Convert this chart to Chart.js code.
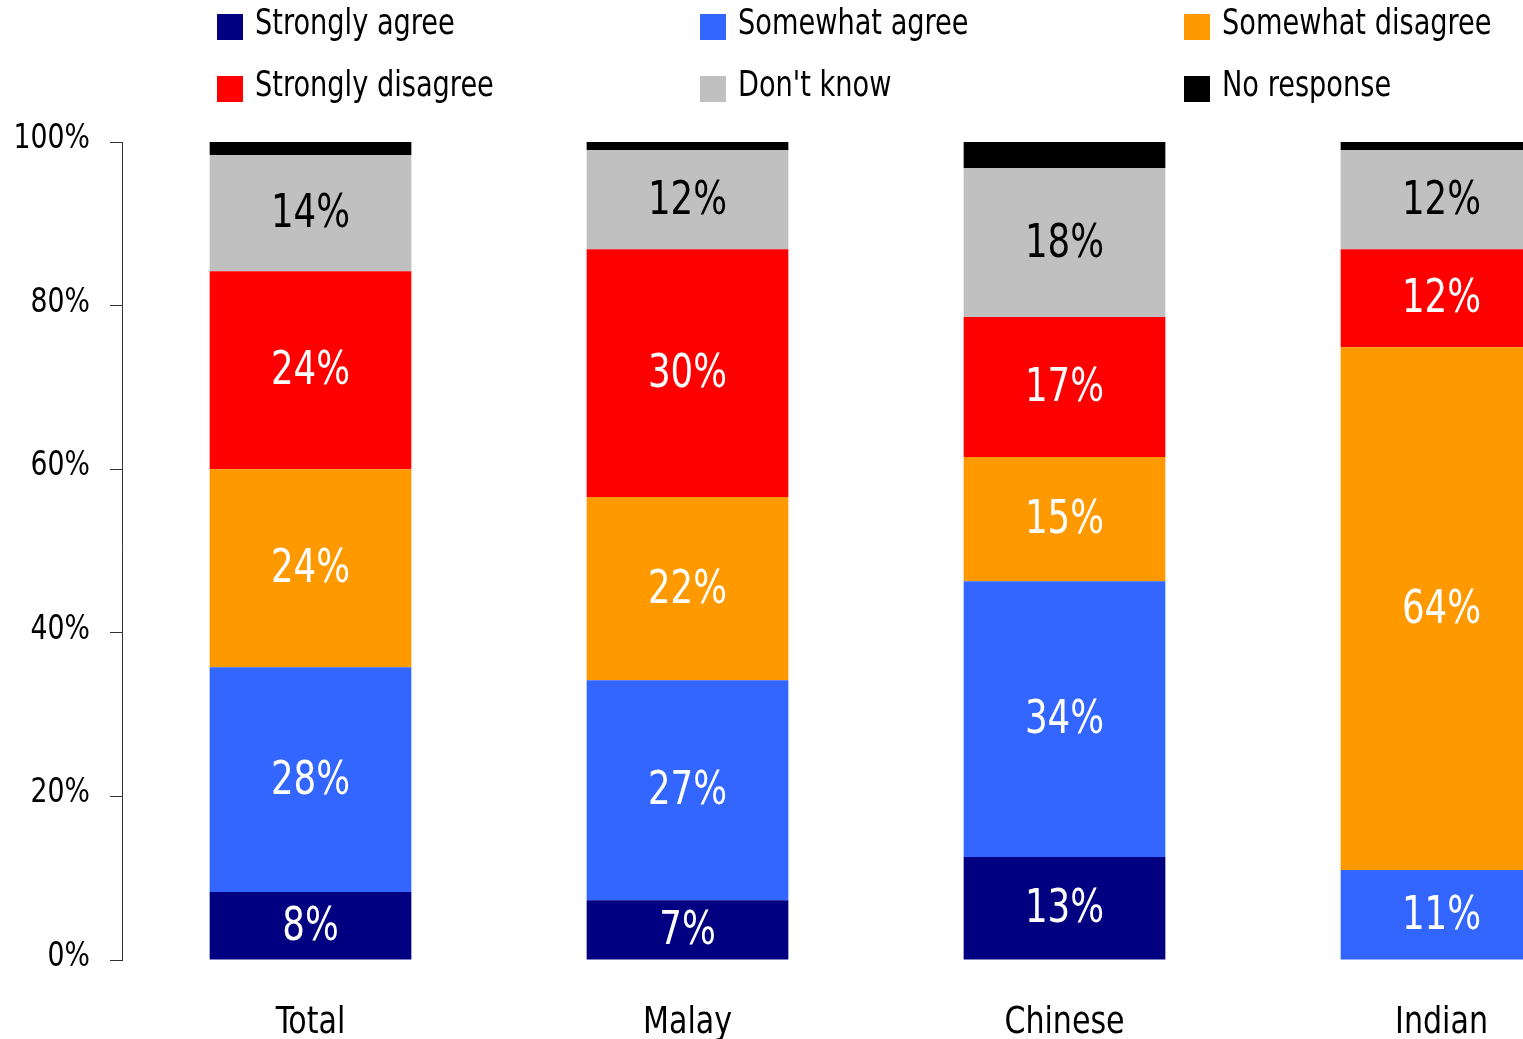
<!DOCTYPE html>
<html>
<head>
<meta charset="utf-8">
<script src="https://cdn.jsdelivr.net/npm/chart.js@4.4.0/dist/chart.umd.min.js"></script>
<style>
  html, body { margin:0; padding:0; background:#fff; overflow:hidden; width:1523px; height:1039px; }
  #wrap { position:absolute; left:0; top:0; width:1630px; height:1060px; }
  .sw { position:absolute; width:26px; height:26px; }
  .tx { position:absolute; font-family:"DejaVu Sans Condensed","DejaVu Sans",sans-serif; font-size:36px; line-height:36px; color:#000; white-space:nowrap; transform:scaleX(0.84); transform-origin:0 0; }
</style>
</head>
<body>
<div id="wrap"><canvas id="c" width="1630" height="1060"></canvas></div>
<div id="legend"></div>
<script>
const categories = ["Total", "Malay", "Chinese", "Indian"];
const seriesNames = ["Strongly agree", "Somewhat agree", "Somewhat disagree", "Strongly disagree", "Don't know", "No response"];
const stronglyAgree    = [8.3, 7.3, 12.6, 0];
const somewhatAgree    = [27.5, 26.9, 33.7, 11.0];
const somewhatDisagree = [24.2, 22.4, 15.2, 63.9];
const stronglyDisagree = [24.2, 30.3, 17.1, 12.0];
const dontKnow         = [14.2, 12.1, 18.2, 12.1];
const noResponse       = [1.6, 1.0, 3.2, 1.0];
const yTicks = [0, 20, 40, 60, 80, 100];

const colors = ["#000080", "#3366FF", "#FF9900", "#FF0000", "#C0C0C0", "#000000"];
const labelColors = ["#fff", "#fff", "#fff", "#fff", "#000", null];
const allSeries = [stronglyAgree, somewhatAgree, somewhatDisagree, stronglyDisagree, dontKnow, noResponse];

// HTML legend (3 columns x 2 rows)
const legCols = [217, 700, 1184];
const legRows = [14, 76];
const legDiv = document.getElementById('legend');
seriesNames.forEach((n,i)=>{
  const cx = legCols[i % 3], ry = legRows[Math.floor(i / 3)];
  const sw = document.createElement('div');
  sw.className = 'sw';
  sw.style.left = cx + 'px'; sw.style.top = ry + 'px'; sw.style.background = colors[i];
  const tx = document.createElement('div');
  tx.className = 'tx';
  tx.style.left = (cx + 38) + 'px'; tx.style.top = (ry - 10) + 'px';
  tx.textContent = n;
  legDiv.appendChild(sw); legDiv.appendChild(tx);
});

const FONT = "'DejaVu Sans Condensed','DejaVu Sans',sans-serif";

function narrowText(ctx, text, x, y, sx, align){
  ctx.save();
  ctx.translate(x, y);
  ctx.scale(sx, 1);
  ctx.textAlign = align;
  ctx.textBaseline = 'alphabetic';
  ctx.fillText(text, 0, 0);
  ctx.restore();
}

const textPlugin = {
  id:'narrowTexts',
  afterDatasetsDraw(chart){
    const ctx = chart.ctx;
    // segment labels
    ctx.save();
    ctx.font = "46px " + FONT;
    chart.data.datasets.forEach((ds, di)=>{
      if (!labelColors[di]) return;
      const meta = chart.getDatasetMeta(di);
      meta.data.forEach((bar, i)=>{
        const v = ds.data[i];
        if (!v || v < 3) return;
        const p = bar.getProps(['x','y','base'], true);
        ctx.fillStyle = labelColors[di];
        narrowText(ctx, Math.round(v) + '%', p.x, (p.y + p.base)/2 + 14, 0.86, 'center');
      });
    });
    // y tick labels
    const ys = chart.scales.y;
    ctx.fillStyle = '#000';
    ctx.font = "33px " + FONT;
    ys.ticks.forEach(t=>{
      narrowText(ctx, t.value + '%', 90, ys.getPixelForValue(t.value) + 6, 0.9, 'right');
    });
    // x category labels
    const xs = chart.scales.x;
    ctx.font = "38px " + FONT;
    categories.forEach((c, i)=>{
      narrowText(ctx, c, xs.getPixelForTick(i), chart.chartArea.bottom + 73, 0.88, 'center');
    });
    ctx.restore();
  }
};

new Chart(document.getElementById('c'), {
  type:'bar',
  data:{
    labels: categories,
    datasets: allSeries.map((d,i)=>({
      label: seriesNames[i], data: d, backgroundColor: colors[i], borderWidth:0,
      barPercentage:0.535, categoryPercentage:1
    }))
  },
  options:{
    responsive:false, maintainAspectRatio:false, animation:false, devicePixelRatio:1,
    layout:{ padding:{ top:142, right:0, left:0, bottom:0 } },
    plugins:{ legend:{display:false}, tooltip:{enabled:false} },
    scales:{
      x:{
        stacked:true,
        grid:{ display:false, drawTicks:false },
        border:{ display:false },
        ticks:{ display:false },
        afterFit(s){ s.height = 100; }
      },
      y:{
        stacked:true, min:0, max:100,
        afterBuildTicks(s){ s.ticks = yTicks.map(v=>({value:v})); },
        grid:{ display:true, drawOnChartArea:false, drawTicks:true, tickLength:12, color:'#333', lineWidth:1 },
        border:{ display:true, color:'#333', width:1 },
        ticks:{ display:false },
        afterFit(s){ s.width = 122; }
      }
    }
  },
  plugins:[textPlugin]
});
</script>
</body>
</html>
